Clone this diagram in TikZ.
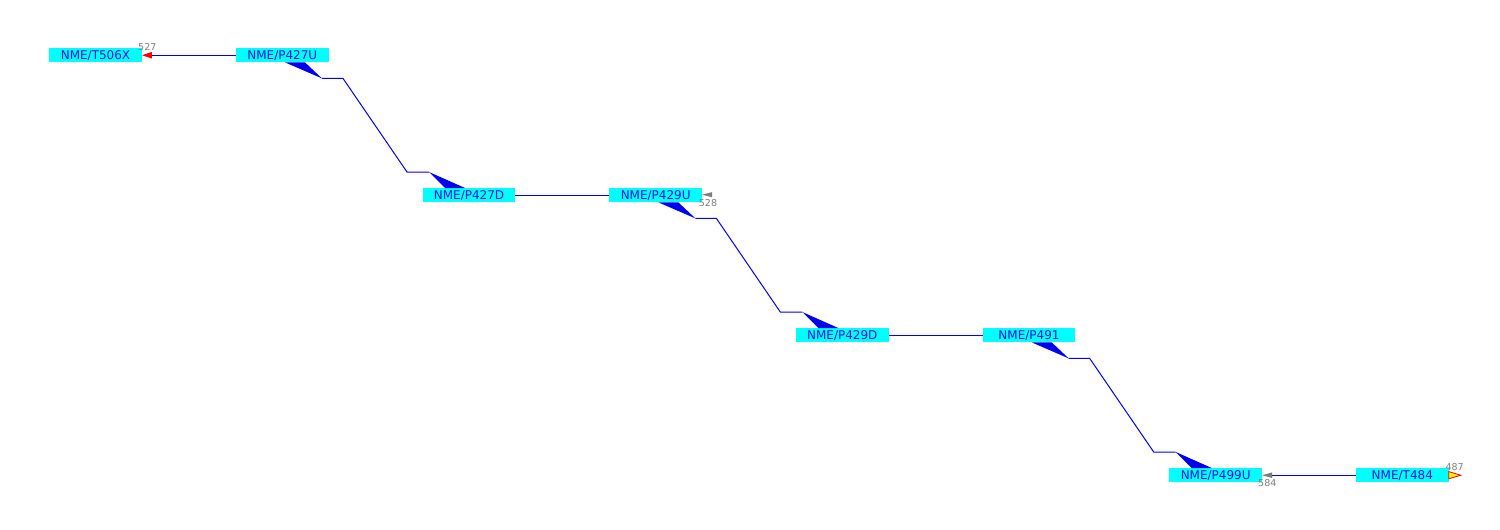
\documentclass[tikz,border=0pt]{standalone}
\usepackage{fontspec}
\setmainfont{DejaVu Sans}
\usetikzlibrary{calc}
\definecolor{boxcyan}{RGB}{0,255,255}
\definecolor{txtblue}{RGB}{20,20,235}
\definecolor{lnblue}{RGB}{0,0,240}
\definecolor{lblgray}{RGB}{125,125,125}
\begin{document}
\begin{tikzpicture}[x=1pt,y=-1pt,
  stn/.style={fill=boxcyan, minimum width=92.5pt, minimum height=14pt, inner sep=0pt,
    text=txtblue, font=\fontsize{12}{12}\selectfont},
  lbl/.style={text=lblgray, font=\fontsize{9.5}{9.5}\selectfont, inner sep=0pt},
  link/.style={draw=lnblue, line width=1pt},
  wedge/.style={fill=lnblue},
]
\useasboundingbox (0,0) rectangle (1500,530);
\fill[white] (0,0) rectangle (1500,530);

% stations
\node[stn] (t506x) at (95.5,55.2)  {NME/T506X};
\node[stn] (p427u) at (282.3,55.2) {NME/P427U};
\node[stn] (p427d) at (469,195.2)  {NME/P427D};
\node[stn] (p429u) at (655.7,195.2){NME/P429U};
\node[stn] (p429d) at (842.3,335.2){NME/P429D};
\node[stn] (p491)  at (1029,335.2) {NME/P491};
\node[stn] (p499u) at (1215.7,475.2){NME/P499U};
\node[stn] (t484)  at (1402.3,475.2){NME/T484};

% end markers
\coordinate (m527) at ($(t506x.east)+(10,0)$);
\fill[red] (t506x.east) -- ($(m527)+(0,-3.3)$) -- ($(m527)+(0,3.3)$) -- cycle;
\node[lbl] (l527) at (147.3,46.6) {527};

\coordinate (m528) at ($(p429u.east)+(10,-0.5)$);
\fill[lblgray] ($(p429u.east)+(0,-0.5)$) -- ($(m528)+(0,-2.6)$) -- ($(m528)+(0,2.6)$) -- cycle;
\node[lbl] (l528) at (708,203.4) {528};

\coordinate (m584) at ($(p499u.east)+(10,0)$);
\fill[lblgray] (p499u.east) -- ($(m584)+(0,-2.8)$) -- ($(m584)+(0,2.8)$) -- cycle;
\node[lbl] (l584) at (1267.3,482.9) {584};

\coordinate (m487) at ($(t484.east)+(12,0)$);
\filldraw[fill=yellow, draw=red, line width=0.8pt] (m487) -- ($(t484.east)+(0,-3.6)$) -- ($(t484.east)+(0,3.6)$) -- cycle;
\node[lbl] (l487) at (1454.7,466.6) {487};

% straight links
\draw[link] (m527) -- (p427u.west);
\draw[link] (p427d.east) -- (p429u.west);
\draw[link] (p429d.east) -- (p491.west);
\draw[link] (m584) -- (t484.west);

% zigzag links
\foreach \u/\d in {p427u/p427d, p429u/p429d, p491/p499u}{
  \coordinate (\u-b1) at ($(\u.south)+(2.7,0)$);
  \coordinate (\u-b2) at ($(\u.south)+(22.7,0)$);
  \coordinate (\u-t)  at ($(\u.south)+(39.7,16)$);
  \coordinate (\u-k1) at ($(\u.south)+(60.7,16)$);
  \coordinate (\d-k2) at ($(\d.north)+(-62,-16)$);
  \coordinate (\d-t)  at ($(\d.north)+(-40,-16)$);
  \coordinate (\d-b3) at ($(\d.north)+(-24,0)$);
  \coordinate (\d-b4) at ($(\d.north)+(-4,0)$);
  \fill[wedge] (\u-b1) -- (\u-t) -- (\u-b2) -- cycle;
  \draw[link, line join=miter] (\u-t) -- (\u-k1) -- (\d-k2) -- (\d-t);
  \fill[wedge] (\d-t) -- (\d-b4) -- (\d-b3) -- cycle;
}
\end{tikzpicture}
\end{document}
